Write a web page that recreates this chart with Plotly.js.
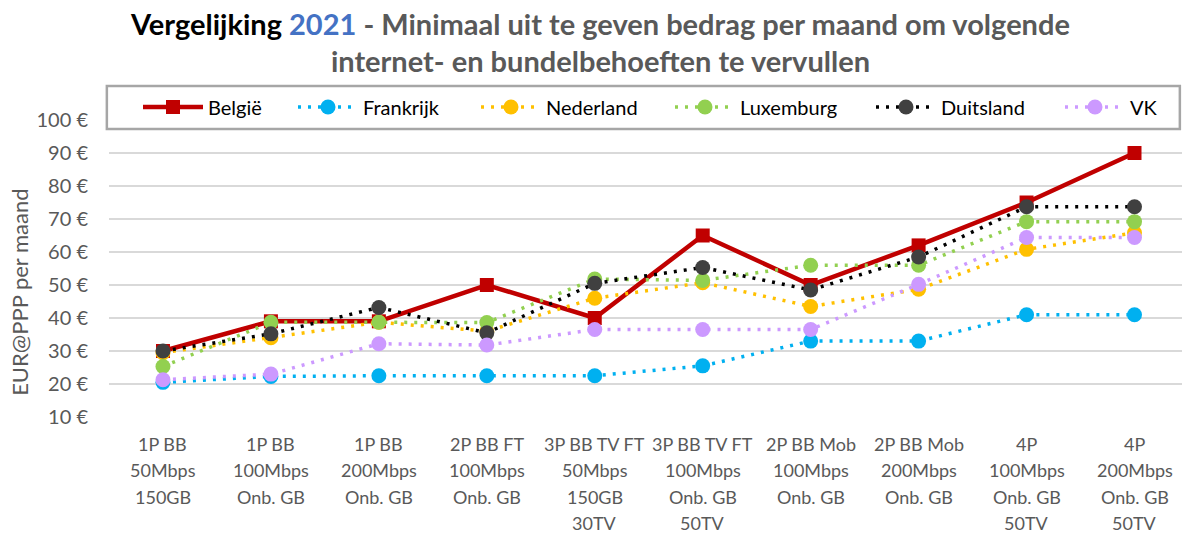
<!DOCTYPE html>
<html>
<head>
<meta charset="utf-8">
<script src="https://cdn.plot.ly/plotly-3.0.1.min.js"></script>
<style>html,body{margin:0;padding:0;background:#fff;}#chart{width:1182px;height:535px;}</style>
</head>
<body>
<div id="chart"></div>
<script>
const categories = [
  ["1P BB","50Mbps","150GB"],
  ["1P BB","100Mbps","Onb. GB"],
  ["1P BB","200Mbps","Onb. GB"],
  ["2P BB FT","100Mbps","Onb. GB"],
  ["3P BB TV FT","50Mbps","150GB","30TV"],
  ["3P BB TV FT","100Mbps","Onb. GB","50TV"],
  ["2P BB Mob","100Mbps","Onb. GB"],
  ["2P BB Mob","200Mbps","Onb. GB"],
  ["4P","100Mbps","Onb. GB","50TV"],
  ["4P","200Mbps","Onb. GB","50TV"]
];
const seriesNames = ["België", "Frankrijk", "Nederland", "Luxemburg", "Duitsland", "VK"];
const belgie     = [30, 39, 39, 50, 40, 65, 50, 62, 75, 90];
const frankrijk  = [20.5, 22.3, 22.5, 22.5, 22.5, 25.5, 33, 33, 41, 41];
const nederland  = [29.5, 34, 38.7, 36, 46, 50.7, 43.5, 48.7, 60.8, 65.8];
const luxemburg  = [25.3, 38.7, 38.7, 38.6, 51.8, 51.4, 56, 56, 69.2, 69.2];
const duitsland  = [30, 35.2, 43.2, 35.5, 50.5, 55.3, 48.5, 58.5, 73.7, 73.7];
const vk         = [21.3, 23, 32.2, 31.8, 36.5, 36.5, 36.5, 50.2, 64.4, 64.4];

const FONT = "Lato, 'Open Sans', sans-serif";
const idx = categories.map((c, i) => i);

// pixel geometry of plot area (for converting legend positions)
const L = 109, PW = 1073;
const legendLeftPx = [138, 293, 476, 670, 871, 1060];

const dotDash = "3px,7px";
function dotted(k, y, lineColor, markerColor) {
  return {
    type: "scatter", mode: "lines+markers", name: seriesNames[k],
    legend: k === 0 ? "legend" : "legend" + (k + 1),
    x: idx, y: y,
    line: {color: lineColor, width: 3.5, dash: dotDash},
    marker: {symbol: "circle", size: 15, color: markerColor}
  };
}

const traces = [
  {type: "scatter", mode: "lines+markers", name: seriesNames[0], legend: "legend", x: idx, y: belgie,
   line: {color: "#C00000", width: 4.5}, marker: {symbol: "square", size: 14, color: "#C00000"}},
  dotted(1, frankrijk, "#00B0F0", "#00B0F0"),
  dotted(2, nederland, "#FFC000", "#FFC000"),
  dotted(3, luxemburg, "#92D050", "#92D050"),
  dotted(4, duitsland, "#000000", "#404040"),
  dotted(5, vk, "#CC99FF", "#CC99FF")
];

// x tick labels, one annotation per line so the line spacing matches
const annotations = [];
categories.forEach((lines, i) => {
  lines.forEach((t, j) => {
    annotations.push({
      text: t, xref: "x", yref: "paper", x: i, y: 0,
      xanchor: "center", yanchor: "middle", yshift: -(27 + 26.3 * j),
      showarrow: false, font: {family: FONT, size: 18, color: "#595959"}
    });
  });
});
annotations.push({
  text: "EUR@PPP per maand", xref: "paper", yref: "paper",
  x: 0, y: 0.418, xanchor: "center", yanchor: "middle", xshift: -89,
  textangle: -90, showarrow: false,
  font: {family: FONT, size: 22, color: "#595959"}
});

const layout = {
  width: 1182, height: 535,
  margin: {l: L, r: 0, t: 120, b: 118},
  paper_bgcolor: "#fff", plot_bgcolor: "#fff",
  font: {family: FONT, size: 17, color: "#595959"},
  showlegend: true,
  title: {
    text: "<span style='color:#000000'>Vergelijking</span> <span style='color:#4472C4'>2021</span> - Minimaal uit te geven bedrag per maand om volgende<br>internet- en bundelbehoeften te vervullen",
    font: {family: FONT, size: 29, color: "#595959", weight: "bold"},
    xref: "container", x: 0.508, xanchor: "center",
    yref: "container", y: 0.935, yanchor: "top"
  },
  xaxis: {
    type: "linear", range: [-0.5, 9.44],
    tickmode: "array", tickvals: idx, showticklabels: false,
    showgrid: false, zeroline: false, showline: false, ticks: "",
    fixedrange: true
  },
  yaxis: {
    range: [10, 100], dtick: 10, tick0: 0, ticksuffix: " €",
    showgrid: true, gridcolor: "#D9D9D9", gridwidth: 1.5,
    zeroline: false, showline: false, ticks: "",
    tickfont: {family: FONT, size: 20, color: "#595959"},
    ticklabelstandoff: 20, fixedrange: true
  },
  shapes: [{
    type: "rect", xref: "paper", yref: "paper", layer: "above",
    x0: -0.002, x1: 0.998, y0: 0.97, y1: 1.1145,
    line: {color: "#A6A6A6", width: 2.5}, fillcolor: "#FFFFFF"
  }],
  annotations: annotations
};

seriesNames.forEach((n, k) => {
  const key = k === 0 ? "legend" : "legend" + (k + 1);
  layout[key] = {
    orientation: "h", x: (legendLeftPx[k] - L) / PW, xanchor: "left",
    y: 1.044, yanchor: "middle",
    font: {family: FONT, size: 20, color: "#000000"},
    bgcolor: "rgba(0,0,0,0)", borderwidth: 0, itemwidth: 60,
    itemclick: false, itemdoubleclick: false
  };
});

Plotly.newPlot("chart", traces, layout, {displayModeBar: false, staticPlot: true});
</script>
</body>
</html>
